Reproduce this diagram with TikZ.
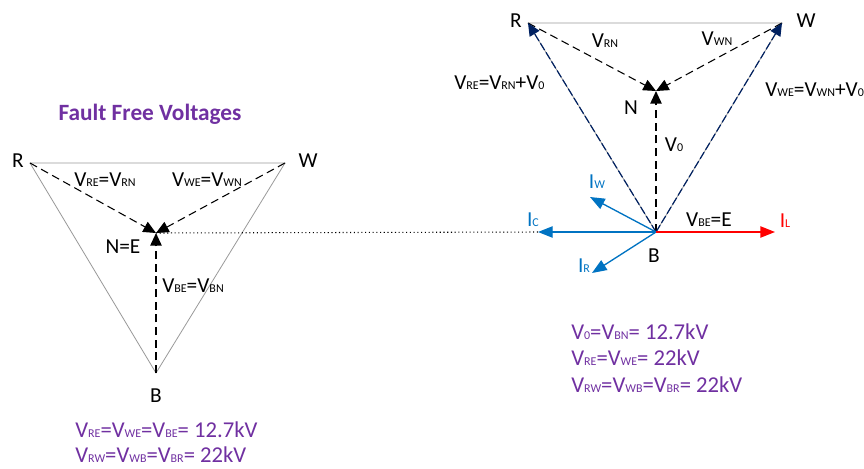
\documentclass[tikz,border=0pt]{standalone}
\usepackage{fontspec}
\setmainfont{Carlito}
\usetikzlibrary{arrows.meta}
\definecolor{ffpurple}{rgb}{0.44,0.19,0.63}
\definecolor{iblue}{rgb}{0.0,0.45,0.76}
\definecolor{dkblue}{rgb}{0.0,0.13,0.38}
\newcommand{\vs}[1]{V{\fontsize{9}{9}\selectfont #1}}
\newcommand{\is}[1]{I{\fontsize{9}{9}\selectfont #1}}
\tikzset{lbl/.style={font=\fontsize{16}{17}\selectfont,inner sep=0pt},
purplelbl/.style={inner sep=0pt,font=\fontsize{17}{18}\selectfont,text=ffpurple,anchor=west},
edgeline/.style={color=black!40,line width=0.6pt},
phasor/.style={->,dash pattern=on 6pt off 3.5pt,line width=0.8pt},
residual/.style={->,dash pattern=on 6pt off 3.5pt,line width=1.2pt},
ileg/.style={-{Triangle[length=11pt,width=8.5pt]},color=iblue,line width=1pt}}
\begin{document}
\begin{tikzpicture}[x=0.75pt,y=-0.75pt,line cap=butt,line join=round,>={Triangle[length=9.5pt,width=8.5pt]}]
\useasboundingbox (0,0) rectangle (864,468);
% fault free
\coordinate (Rl) at (30,163);
\coordinate (Wl) at (285,163);
\coordinate (Bl) at (156,373);
\coordinate (Nl) at (156,233);
\draw[edgeline] (Rl) -- (Wl) -- (Bl) -- cycle;
\foreach \p in {Rl,Wl} \draw[phasor] (\p) -- (Nl);
\draw[residual] (Bl) -- (Nl);
% earth fault on B
\coordinate (Rr) at (528,23);
\coordinate (Wr) at (782,23);
\coordinate (Br) at (656,232);
\coordinate (Nr) at (656,91);
\coordinate (Il) at (775,232);
\coordinate (Ic) at (538,232);
\coordinate (Iw) at (590,197);
\coordinate (Ir) at (592,273);
\draw[edgeline] (Rr) -- (Wr) -- (Br) -- cycle;
\foreach \p in {Rr,Wr} \draw[phasor] (\p) -- (Nr);
\draw[residual] (Br) -- (Nr);
\foreach \p in {Rr,Wr} \draw[->,color=dkblue,dash pattern=on 6pt off 2pt,line width=0.9pt] (Br) -- (\p);
\draw[dotted,line width=0.8pt] (Nl) -- (Ic);
\foreach \p in {Ic,Iw,Ir} \draw[ileg] (Br) -- (\p);
\draw[ileg,color=red] (Br) -- (Il);
% labels
\node[lbl] (rl) at (18,161) {R};
\node[lbl] (wl) at (308,161) {W};
\node[lbl] (bl) at (156,396) {B};
\node[lbl] (nl) at (123,247) {N=E};
\node[lbl,font=\fontsize{17.5}{19}\selectfont\bfseries,text=ffpurple] (title) at (150,114) {Fault Free Voltages};
\node[lbl] (vrel) at (105,180) {\vs{RE}=\vs{RN}};
\node[lbl] (vwel) at (207,180) {\vs{WE}=\vs{WN}};
\node[lbl] (vbel) at (193,286) {\vs{BE}=\vs{BN}};
\node[purplelbl] (sumla) at (75,430) {\vs{RE}=\vs{WE}=\vs{BE}= 12.7kV};
\node[purplelbl] (sumlb) at (75,455) {\vs{RW}=\vs{WB}=\vs{BR}= 22kV};
\node[lbl] (rr) at (516,21) {R};
\node[lbl] (wr) at (806,21) {W};
\node[lbl] (br) at (654,256) {B};
\node[lbl] (nr) at (631,108) {N};
\node[lbl] (vrn) at (605,41) {\vs{RN}};
\node[lbl] (vwn) at (717,39) {\vs{WN}};
\node[lbl] (vo) at (674,145) {\vs{0}};
\node[lbl,anchor=west] (vrer) at (454,83) {\vs{RE}=\vs{RN}+\vs{0}};
\node[lbl,anchor=west] (vwer) at (765,90) {\vs{WE}=\vs{WN}+\vs{0}};
\node[lbl] (vber) at (709,220) {\vs{BE}=E};
\node[lbl,text=red] (ilbl) at (785,221) {\is{L}};
\node[lbl,text=iblue] (iclbl) at (533,220) {\is{C}};
\node[lbl,text=iblue] (iwlbl) at (597,182) {\is{W}};
\node[lbl,text=iblue] (irlbl) at (584,266) {\is{R}};
\node[purplelbl] (sumra) at (571,332) {\vs{0}=\vs{BN}= 12.7kV};
\node[purplelbl] (sumrb) at (571,358) {\vs{RE}=\vs{WE}= 22kV};
\node[purplelbl] (sumrc) at (571,385) {\vs{RW}=\vs{WB}=\vs{BR}= 22kV};
\end{tikzpicture}
\end{document}
